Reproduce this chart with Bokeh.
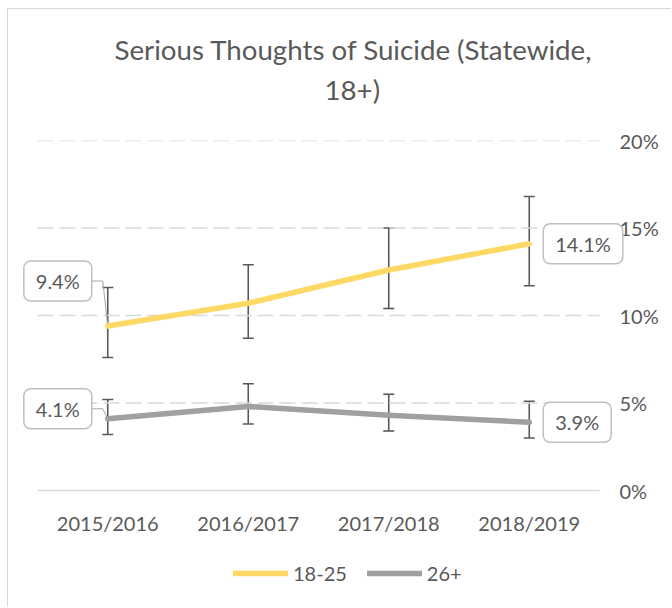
from bokeh.plotting import figure
from bokeh.models import (Range1d, FixedTicker, LinearAxis, Title, Label, Whisker,
                          ColumnDataSource, TeeHead, Legend, LegendItem)
from bokeh.embed import file_html
from bokeh.resources import INLINE

categories = ["2015/2016", "2016/2017", "2017/2018", "2018/2019"]
young = [9.4, 10.7, 12.6, 14.1]
young_low = [7.6, 8.7, 10.4, 11.7]
young_high = [11.6, 12.9, 15.0, 16.8]
older = [4.1, 4.8, 4.3, 3.9]
older_low = [3.2, 3.8, 3.4, 3.0]
older_high = [5.2, 6.1, 5.5, 5.1]
y_ticks = [0, 5, 10, 15, 20]
title_lines = ["Serious Thoughts of Suicide (Statewide,", "18+)"]

FONT = "Lato"
TXT = "#595959"
GRID = "#D9D9D9"
C_YOUNG = "#FFD966"
C_OLD = "#A0A0A0"

n = len(categories)
xs = [i + 0.5 for i in range(n)]

# layout in pixels
CAT_PX = 562.0                 # width of the category area
PPU_X = CAT_PX / n
VAL_PX = 350.0                 # height of the 0..20 value area
PPU_Y = VAL_PX / (y_ticks[-1] - y_ticks[0])
FRAME_LEFT_PAD = 29
FRAME_RIGHT_PAD = 65
FRAME_BOTTOM_PAD = 110         # room under the value area for tick labels and legend

p = figure(width=664, height=599, output_backend="svg", toolbar_location=None,
           x_range=Range1d(-FRAME_LEFT_PAD / PPU_X, n + FRAME_RIGHT_PAD / PPU_X),
           y_range=Range1d(y_ticks[0] - FRAME_BOTTOM_PAD / PPU_Y, y_ticks[-1]),
           y_axis_location=None, x_axis_location=None,
           min_border_left=0, min_border_right=8,
           min_border_top=131, min_border_bottom=8, outline_line_color=None)
p.styles = {"margin-left": "7px", "margin-top": "8px",
            "border-left": "1px solid #D9D9D9", "border-top": "1px solid #D9D9D9"}

# titles (second line added first: it sits nearer the plot)
p.add_layout(Title(text=title_lines[1], align="left", offset=316, text_font=FONT,
                   text_font_size="27.7px", text_font_style="normal", text_color=TXT,
                   standoff=70), "above")
p.add_layout(Title(text=title_lines[0], align="left", offset=106, text_font=FONT,
                   text_font_size="27.7px", text_font_style="normal", text_color=TXT,
                   standoff=-60), "above")

# x axis: labels pulled up under the value area
xa = LinearAxis(ticker=FixedTicker(ticks=xs))
xa.major_label_overrides = {x: c for x, c in zip(xs, categories)}
xa.major_tick_line_color = None
xa.minor_tick_line_color = None
xa.axis_line_color = None
xa.major_label_text_font = FONT
xa.major_label_text_font_size = "20px"
xa.major_label_text_color = TXT
xa.major_label_standoff = -(FRAME_BOTTOM_PAD - 14)
p.add_layout(xa, "below")

# right y axis: labels pulled back next to the category area
ya = LinearAxis(ticker=FixedTicker(ticks=y_ticks))
ya.major_label_overrides = {t: f"{t}%" for t in y_ticks}
ya.axis_line_color = None
ya.major_tick_line_color = None
ya.minor_tick_line_color = None
ya.major_label_text_font = FONT
ya.major_label_text_font_size = "20px"
ya.major_label_text_color = TXT
ya.major_label_standoff = -(FRAME_RIGHT_PAD - 14)
p.add_layout(ya, "right")

p.xgrid.visible = False
p.ygrid.visible = False
grid_ticks = [t for t in y_ticks if t > 0]
p.segment(x0=[0] * len(grid_ticks), x1=[n] * len(grid_ticks), y0=grid_ticks, y1=grid_ticks,
          line_color=GRID, line_width=1.5, line_dash="16 6")
p.segment(x0=[0], x1=[n], y0=[y_ticks[0]], y1=[y_ticks[0]], line_color=GRID, line_width=1.5)

# error bars
for lo, hi in [(young_low, young_high), (older_low, older_high)]:
    src = ColumnDataSource(dict(x=xs, lo=lo, hi=hi))
    w = Whisker(source=src, base="x", lower="lo", upper="hi", dimension="height",
                line_color=TXT, line_width=1.6, level="underlay",
                upper_head=TeeHead(size=11, line_color=TXT, line_width=1.6),
                lower_head=TeeHead(size=11, line_color=TXT, line_width=1.6))
    p.add_layout(w)

# leader lines (pixel offsets converted to data units)
for yv, dy in [(young[0], 45), (older[0], 10)]:
    p.line([xs[0] - 16 / PPU_X, xs[0] - 5 / PPU_X, xs[0]],
           [yv + dy / PPU_Y, yv + dy / PPU_Y, yv], line_color="#A6A6A6", line_width=1)

r1 = p.line(xs, young, line_color=C_YOUNG, line_width=5.5, line_cap="round", line_join="round")
r2 = p.line(xs, older, line_color=C_OLD, line_width=5.5, line_cap="round", line_join="round")

# data labels
def add_label(x, y, v, align, xoff, yoff):
    p.add_layout(Label(x=x, y=y, text=f"{v:.1f}%", text_align=align, text_baseline="middle",
                       x_offset=xoff, y_offset=yoff, text_font=FONT, text_font_size="20px",
                       text_color=TXT, background_fill_color="white",
                       border_line_color="#BFBFBF", border_line_width=1.5,
                       border_radius=7, padding=dict(left=12, right=12, top=8, bottom=8)))

add_label(xs[0], young[0], young[0], "right", -16, 45)
add_label(xs[0], older[0], older[0], "right", -16, 10)
add_label(xs[-1], young[-1], young[-1], "left", 14, 0)
add_label(xs[-1], older[-1], older[-1], "left", 14, 0)

legend = Legend(items=[LegendItem(label="18-25", renderers=[r1]),
                       LegendItem(label="26+", renderers=[r2])],
                orientation="horizontal", location=(225, 15), glyph_width=55,
                glyph_height=20, label_standoff=5, spacing=20, padding=0, margin=0,
                border_line_color=None, background_fill_color=None,
                label_text_font=FONT, label_text_font_size="20px",
                label_text_color=TXT)
p.add_layout(legend, "center")

open("out.html", "w").write(file_html(p, INLINE))
